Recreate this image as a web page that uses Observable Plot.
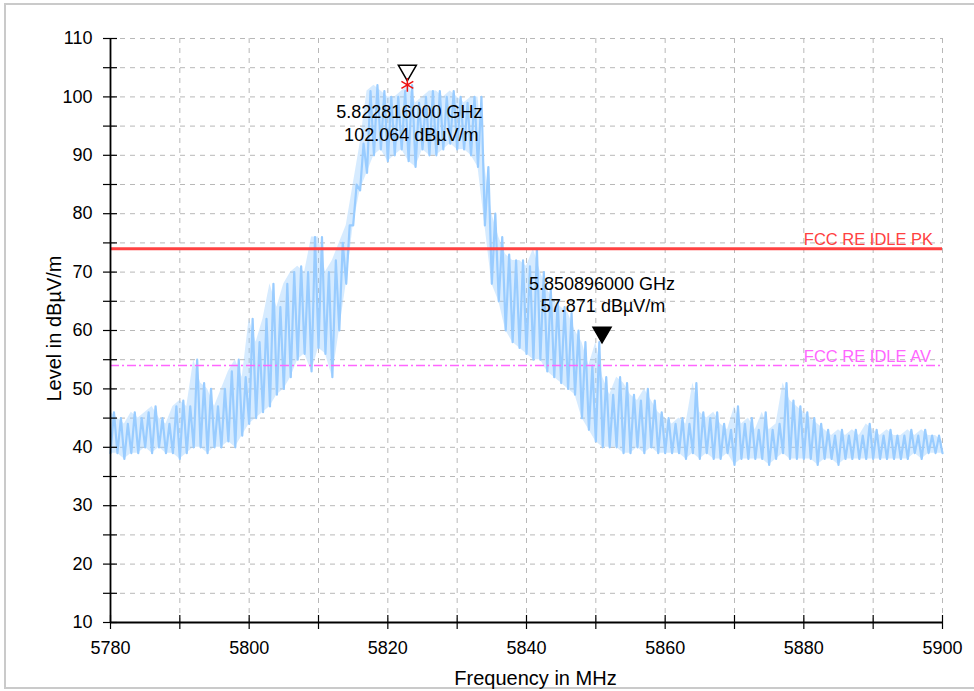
<!DOCTYPE html>
<html><head><meta charset="utf-8">
<script src="https://cdn.jsdelivr.net/npm/d3@7"></script>
<script src="https://cdn.jsdelivr.net/npm/@observablehq/plot@0.6"></script>
<style>
body{margin:0;background:#fff;}
#wrap{position:relative;width:974px;height:691px;overflow:hidden;background:#fff;}
#frame{position:absolute;left:4px;top:3px;width:990px;height:686px;border:2px solid #cacaca;box-sizing:border-box;}
#chart{position:absolute;left:0;top:0;}
</style></head><body>
<div id="wrap"><div id="frame"></div><div id="chart"></div></div>
<script>
// Spectrum sampled at 1 MHz: upper and lower excursion of the noisy trace (dBµV/m)
const freqs = d3.range(5780, 5901);
const traceHigh = [
 46,45,44,46,45,46,47,45,44,47, 48,47,55,51,50,47,50,53,55,52,
 62,58,62,68,64,68,70,71,70,76, 76,70,72,75,78,85,92,101,102,101,
 100,100,101,102,99,100,101,101,100,101, 100,99,100,100,88,80,76,73,72,72,
 71,74,70,67,65,64,63,60,58,54, 58,52,49,52,51,49,48,50,48,46,
 45,44,45,44,51,46,45,46,44,43, 47,44,45,43,46,43,44,51,48,47,
 46,45,44,43,42,43,42,43,42,44, 43,42,43,42,42,43,42,43,42,42, 41];
const traceLow = [
 39,39,38,39,39,40,39,40,39,39, 38,39,40,40,39,40,40,41,40,42,
 44,45,46,47,49,50,52,55,56,53, 57,56,52,60,68,78,84,87,90,91,
 89,90,91,89,88,91,90,90,91,92, 91,91,90,88,78,68,65,60,58,57,
 56,55,55,53,52,51,50,49,45,43, 41,40,40,40,39,39,40,39,40,39,
 39,39,39,38,39,38,39,38,38,39, 37,38,38,38,38,37,38,39,38,38,
 38,38,37,38,38,37,38,38,38,38, 38,38,38,38,38,38,39,38,39,39, 39];

// Limit lines
const limitNames = ["FCC RE IDLE PK", "FCC RE IDLE AV"];
const limitLevels = [74, 54];
const limitColors = ["#ff4040", "#ff66ff"];

// Markers
const markerFreq = [5822.816, 5850.896];
const markerLevel = [102.064, 57.871];
const markerLine1 = ["5.822816000 GHz", "5.850896000 GHz"];
const markerLine2 = ["102.064 dBµV/m", "57.871 dBµV/m"];

// Axis ticks
const xTicks = d3.range(5780, 5901, 10);
const xLabels = [5780, 5800, 5820, 5840, 5860, 5880, 5900];
const yTicks = d3.range(10, 111, 5);
const yLabels = [10, 20, 30, 40, 50, 60, 70, 80, 90, 100, 110];

const trace = [];
freqs.forEach((f, i) => {
  trace.push({f, v: traceLow[i]});
  if (f < 5900) trace.push({f: f + 0.5, v: traceHigh[i]});
});
const band = freqs.map((f, i) => ({f, lo: traceLow[i], hi: traceHigh[i]}));
const limits = limitNames.map((n, i) => ({n, v: limitLevels[i], c: limitColors[i]}));
const markers = markerFreq.map((f, i) => ({f, v: markerLevel[i], l1: markerLine1[i], l2: markerLine2[i]}));

const chart = Plot.plot({
  width: 974, height: 691,
  marginLeft: 110, marginRight: 32, marginTop: 38, marginBottom: 69,
  x: {domain: [5780, 5900], label: null},
  y: {domain: [10, 110], label: null},
  style: {fontFamily: "'Liberation Sans', Arial, sans-serif", fontSize: "18px", color: "#000", background: "transparent"},
  marks: [
    Plot.gridX(xTicks, {stroke: "#b8b8b8", strokeOpacity: 1, strokeDasharray: "5,5"}),
    Plot.gridY(yTicks, {stroke: "#b8b8b8", strokeOpacity: 1, strokeDasharray: "5,5"}),
    Plot.areaY(band, {x: "f", y1: "lo", y2: "hi", fill: "#99ccff", fillOpacity: 0.4}),
    Plot.line(trace, {x: "f", y: "v", stroke: "#99ccff", strokeWidth: 2.2}),
    Plot.ruleY([limits[0]], {y: "v", stroke: "c", strokeWidth: 3}),
    Plot.ruleY([limits[1]], {y: "v", stroke: "c", strokeWidth: 1.5, strokeDasharray: "9,3,2,3"}),
    Plot.text(limits, {x: () => 5880, y: "v", text: "n", fill: "c", textAnchor: "start", dy: -9, fontSize: 16.5}),
    Plot.axisX(xTicks, {tickSize: 14, dy: -7, tickFormat: () => "", label: null, strokeWidth: 1.2}),
    Plot.axisX(xLabels, {tickSize: 0, tickPadding: 19, label: null, tickFormat: d => String(d), fontSize: 18}),
    Plot.axisY(yTicks, {tickSize: 14, dx: 7, tickFormat: () => "", label: null, strokeWidth: 1.2}),
    Plot.axisY(yLabels, {tickSize: 0, tickPadding: 18, label: null, fontSize: 18}),
    Plot.ruleX([5780], {stroke: "#000", strokeWidth: 1.8}),
    Plot.ruleY([10], {stroke: "#000", strokeWidth: 1.8}),
    Plot.text(["Frequency in MHz"], {frameAnchor: "bottom", lineAnchor: "middle", textAnchor: "middle", dx: 9, dy: 56, fontSize: 20}),
    Plot.text(["Level in dBµV/m"], {frameAnchor: "left", lineAnchor: "middle", textAnchor: "middle", dx: -56, dy: -2, rotate: -90, fontSize: 20}),
    Plot.dot([markers[0]], {x: "f", y: "v", symbol: "triangle", rotate: 180, r: 6.7, dy: -14.5, stroke: "#000", strokeWidth: 1.5, fill: "#fff"}),
    Plot.dot([markers[0]], {x: "f", y: "v", symbol: "asterisk", r: 6.5, stroke: "#ee1111", strokeWidth: 1.5}),
    Plot.dot([markers[1]], {x: "f", y: "v", symbol: "triangle", rotate: 180, r: 6.7, dy: -10.5, fill: "#000", stroke: "#000"}),
    Plot.text([markers[0]], {x: "f", y: "v", text: "l1", dx: 2, dy: 27, fontSize: 18}),
    Plot.text([markers[0]], {x: "f", y: "v", text: "l2", dx: 4, dy: 50, fontSize: 18}),
    Plot.text([markers[1]], {x: "f", y: "v", text: "l1", dx: 0, dy: -59, fontSize: 18}),
    Plot.text([markers[1]], {x: "f", y: "v", text: "l2", dx: 1, dy: -37, fontSize: 18})
  ]
});
document.getElementById("chart").appendChild(chart);
</script>
</body></html>
